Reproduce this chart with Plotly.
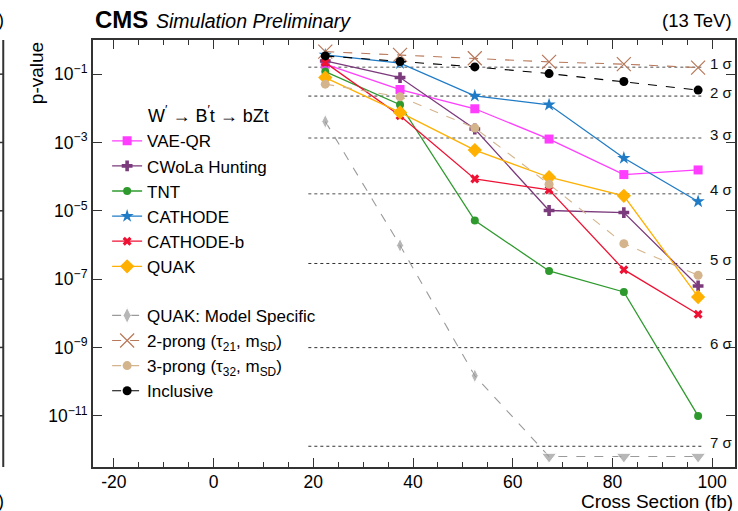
import math
import plotly.graph_objects as go

# Signal cross sections (fb) at which each method was evaluated
xsec = [22.4, 37.4, 52.4, 67.3, 82.3, 97.2]

# Observed p-values per method
vae_qr = [0.196, 0.0355, 9.7e-3, 1.26e-3, 1.15e-4, 1.57e-4]
cwola = [0.244, 0.0796, 2.48e-3, 1.02e-5, 8.9e-6, 6.3e-8]
tnt = [0.119, 0.0127, 5.2e-6, 1.73e-7, 4.2e-8, 9.9e-12]
cathode = [0.366, 0.209, 0.0232, 0.0127, 3.5e-4, 1.87e-5]
cathode_b = [0.218, 6.05e-3, 8.6e-5, 4.1e-5, 1.89e-7, 9.4e-9]
quak = [0.0796, 7.6e-3, 6.0e-4, 9.6e-5, 2.74e-5, 3.0e-8]
quak_ms = [4.13e-3, 9.7e-7, 1.48e-10, 6.4e-13, 6.4e-13, 6.4e-13]
prong2 = [0.457, 0.366, 0.293, 0.229, 0.196, 0.156]
prong3 = [0.051, 0.0217, 2.65e-3, 6.0e-5, 1.09e-6, 1.29e-7]
inclusive = [0.342, 0.233, 0.163, 0.104, 0.0608, 0.0341]

# One-sided p-values for 1..7 sigma
sigma_names = ["1 σ", "2 σ", "3 σ", "4 σ", "5 σ", "6 σ", "7 σ"]
sigma_p = [1.587e-1, 2.275e-2, 1.350e-3, 3.167e-5, 2.867e-7, 9.866e-10, 1.280e-12]
sigma_x = [19, 98]

# Axis settings
x_range = [-24.2, 104.6]
x_ticks = [-20, 0, 20, 40, 60, 80, 100]
x_ticktext = ["-20", "0", "20", "40", "60", "80", "100"]
y_exponents = [-1, -3, -5, -7, -9, -11]
y_log_range = [-12.5, 0.0]

FONT = "Liberation Sans, Arial, Helvetica, sans-serif"

fig = go.Figure()

# Significance reference lines
for i, (name, p) in enumerate(zip(sigma_names, sigma_p)):
    strong = i < 4
    fig.add_trace(go.Scatter(
        x=sigma_x, y=[p, p], mode="lines", showlegend=False, hoverinfo="skip",
        line=dict(color="#8a8a8a" if strong else "#333333",
                  width=1.6 if strong else 1.0, dash="dot"),
    ))

methods = [
    ("VAE-QR", vae_qr, "#ff3dff", "square", 9, "solid", "a"),
    ("CWoLa Hunting", cwola, "#7b3a7b", "cross", 9, "solid", "a"),
    ("TNT", tnt, "#2e9a2e", "circle", 8, "solid", "a"),
    ("CATHODE", cathode, "#1f7bc6", "star", 10, "solid", "a"),
    ("CATHODE-b", cathode_b, "#ee1133", "x", 8, "solid", "a"),
    ("QUAK", quak, "#ffb000", "diamond", 11, "solid", "a"),
]
for name, vals, color, sym, size, dash, grp in methods:
    fig.add_trace(go.Scatter(
        x=xsec, y=vals, mode="lines+markers", name=name, legendgroup=grp,
        line=dict(color=color, width=1.3, dash=dash),
        marker=dict(color=color, symbol=sym, size=size),
    ))

fig.add_trace(go.Scatter(
    x=xsec, y=quak_ms, mode="lines+markers", name="QUAK: Model Specific",
    legendgroup="b",
    line=dict(color="#9a9a9a", width=1.1, dash="dash"),
    marker=dict(color="#9a9a9a",
                symbol=["diamond-tall"] * 3 + ["triangle-down"] * 3,
                size=[10, 10, 10, 13, 13, 13]),
))
fig.add_trace(go.Scatter(
    x=xsec, y=prong2, mode="lines+markers",
    name="2-prong (τ<sub>21</sub>, m<sub>SD</sub>)", legendgroup="b",
    line=dict(color="#b8785a", width=1.1, dash="dash"),
    marker=dict(color="#b8785a", symbol="x-thin-open", size=14,
                line=dict(color="#b8785a", width=1.2)),
))
fig.add_trace(go.Scatter(
    x=xsec, y=prong3, mode="lines+markers",
    name="3-prong (τ<sub>32</sub>, m<sub>SD</sub>)", legendgroup="b",
    line=dict(color="#d4b48c", width=1.1, dash="dash"),
    marker=dict(color="#d4b48c", symbol="circle", size=9),
))
fig.add_trace(go.Scatter(
    x=xsec, y=inclusive, mode="lines+markers", name="Inclusive",
    legendgroup="b",
    line=dict(color="#000000", width=1.1, dash="dash"),
    marker=dict(color="#000000", symbol="circle", size=9),
))

annotations = []
for name, p in zip(sigma_names, sigma_p):
    annotations.append(dict(
        x=99.2, y=math.log10(p), xref="x", yref="y",
        text=name, showarrow=False, xanchor="left", yanchor="middle",
        yshift=4, font=dict(size=15, color="#111", family=FONT),
    ))

annotations += [
    dict(x=0, y=1.047, xref="paper", yref="paper", text="<b>CMS</b>",
         showarrow=False, xanchor="left", yanchor="middle",
         font=dict(size=24, color="black", family=FONT)),
    dict(x=0.095, y=1.045, xref="paper", yref="paper",
         text="<i>Simulation Preliminary</i>", showarrow=False,
         xanchor="left", yanchor="middle",
         font=dict(size=19.5, color="black", family=FONT)),
    dict(x=0.999, y=1.045, xref="paper", yref="paper", text="(13 TeV)",
         showarrow=False, xanchor="right", yanchor="middle",
         font=dict(size=18.5, color="black", family=FONT)),
    dict(x=-0.0885, y=1.0, xref="paper", yref="paper", text="p-value",
         textangle=-90, showarrow=False, xanchor="center", yanchor="top",
         font=dict(size=19, color="black", family=FONT)),
    dict(x=1.0, y=-0.08, xref="paper", yref="paper",
         text="Cross Section (fb)", showarrow=False, xanchor="right",
         yanchor="middle", font=dict(size=19, color="black", family=FONT)),
    dict(x=0.083, y=0.825, xref="paper", yref="paper",
         text="W<sup>′</sup> → B<sup>′</sup>t → bZt", showarrow=False,
         xanchor="left", yanchor="middle",
         font=dict(size=18, color="black", family=FONT)),
    # edge of the neighbouring panel
    dict(x=-0.135, y=1.047, xref="paper", yref="paper", text=")",
         showarrow=False, xanchor="right", yanchor="middle",
         font=dict(size=18, color="black", family=FONT)),
    dict(x=-0.135, y=-0.08, xref="paper", yref="paper", text=")",
         showarrow=False, xanchor="right", yanchor="middle",
         font=dict(size=18, color="black", family=FONT)),
]

shapes = [
    dict(type="line", xref="paper", yref="paper", x0=-0.1398, x1=-0.1398,
         y0=0, y1=1, line=dict(color="#333", width=2)),
]
for e in y_exponents:
    frac = (e - y_log_range[0]) / (y_log_range[1] - y_log_range[0])
    shapes.append(dict(type="line", xref="paper", yref="paper",
                       x0=-0.1398, x1=-0.1528, y0=frac, y1=frac,
                       line=dict(color="#333", width=1.5)))

axis_common = dict(
    showgrid=False, zeroline=False, showline=True, linecolor="#333333",
    linewidth=2, mirror="ticks", ticks="inside", tickcolor="#333333",
    tickwidth=1.3, ticklen=9,
    tickfont=dict(size=17.5, color="black", family=FONT),
)

fig.update_layout(
    width=738, height=511,
    margin=dict(l=93, r=1, t=40, b=44),
    paper_bgcolor="white", plot_bgcolor="white",
    font=dict(family=FONT, color="black"),
    xaxis=dict(range=x_range, tickvals=x_ticks, ticktext=x_ticktext,
               ticklabelstandoff=-2,
               minor=dict(dtick=5, ticks="inside", ticklen=5,
                          tickcolor="#333333", tickwidth=1.2),
               **axis_common),
    yaxis=dict(type="log", range=y_log_range,
               tickvals=[10.0 ** e for e in y_exponents],
               ticktext=[f"10<sup>−{-e}</sup>" for e in y_exponents],
               **axis_common),
    legend=dict(x=0.022, y=0.805, xanchor="left", yanchor="top",
                traceorder="grouped", tracegroupgap=24,
                bgcolor="rgba(0,0,0,0)", borderwidth=0,
                font=dict(size=17, color="black", family=FONT)),
    annotations=annotations,
    shapes=shapes,
)

fig.write_html("out.html")
